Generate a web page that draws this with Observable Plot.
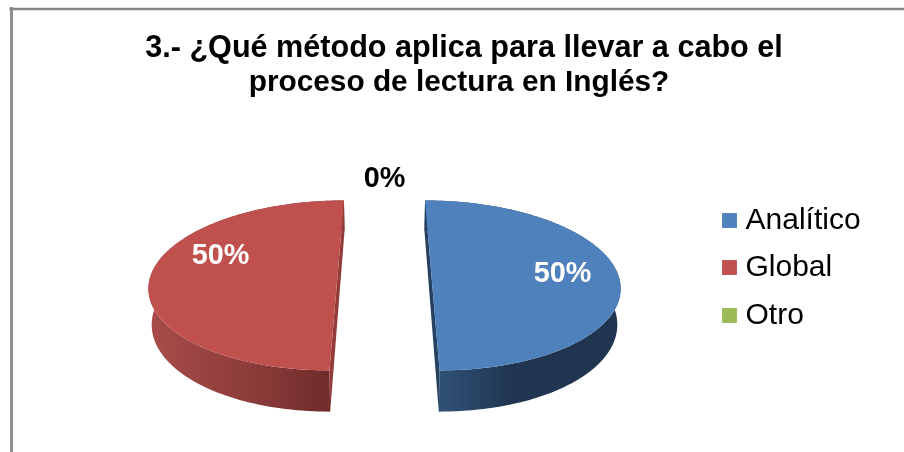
<!DOCTYPE html>
<html><head><meta charset="utf-8">
<style>html,body{margin:0;padding:0;background:#fff}svg{display:block;filter:blur(.4px)}</style>
<script src="https://cdn.jsdelivr.net/npm/d3@7"></script>
<script src="https://cdn.jsdelivr.net/npm/@observablehq/plot@0.6"></script>
</head><body><script>
const titleLines = ["3.- ¿Qué método aplica para llevar a cabo el", "proceso de lectura en Inglés?"];
const categories = ["Analítico", "Global", "Otro"];
const values = [50, 50, 0];
const colors = ["#4f81bd", "#c0504d", "#9bbb59"];
const cutColors = ["#254061", "#943c39", "#76923c"];

// layout of the 3D projection
const W = 904, H = 452;
const cx = 384, cy = 272, rx = 186, ry = 83, persp = 0.152, depth = 35, explode = 46.7, shrink = 0.986;
const labelAt = [[562, 272.5], [220, 254], [384, 177]];
const titleAt = [[463.5, 46.5], [458.5, 80.5]];
const titleSize = [30.6, 29.8];
const legendY = [220, 267, 315];

const pie = d3.pie().sort(null).startAngle(0).endAngle(2 * Math.PI)(values);
const total = d3.sum(values);
function proj(u, v, down) {
  const s = 1 / (1 + persp * v);
  return [cx + rx * u * s * (down ? shrink : 1), cy - ry * v * s + (down ? depth * s : 0)];
}
const slices = pie.map((a, i) => {
  const mid = (a.startAngle + a.endAngle) / 2;
  const ex = a.value > 0 ? explode / rx * Math.sign(Math.sin(mid)) : 0;
  const steps = 120;
  const arc = d3.range(steps + 1).map(k => {
    const t = a.startAngle + (a.endAngle - a.startAngle) * k / steps;
    return [ex + Math.sin(t), Math.cos(t)];
  });
  return {i, value: a.value, arc};
}).filter(s => s.value > 0);

const topFace = slices.map(s => ({i: s.i, pts: s.arc.map(p => proj(p[0], p[1], false))}));
const sideFace = slices.map(s => ({i: s.i, pts: [
  ...s.arc.map(p => proj(p[0], p[1], false)),
  ...s.arc.slice().reverse().map(p => proj(p[0], p[1], true))
]}));
const cutFace = slices.map(s => {
  const a = s.arc[0], b = s.arc[s.arc.length - 1];
  return {i: s.i, pts: [proj(a[0], a[1], false), proj(b[0], b[1], false), proj(b[0], b[1], true), proj(a[0], a[1], true)]};
});
const poly = (face, fillOf) => face.map(f => Plot.line(f.pts, {x: d => d[0], y: d => d[1], fill: fillOf(f.i), stroke: "none", curve: "linear"}));

const defs = () => {
  const d = d3.create("svg:defs");
  const grad = (id, stops) => {
    const g = d.append("linearGradient").attr("id", id).attr("x1", 0).attr("x2", 1).attr("y1", 0).attr("y2", 0);
    stops.forEach(([o, c]) => g.append("stop").attr("offset", o).attr("stop-color", c));
  };
  grad("side0", [[0, "#2f4f73"], [0.12, "#2f4f73"], [0.45, "#1f3550"], [1, "#1f3550"]]);
  grad("side1", [[0, "#a84c49"], [0.55, "#8a3b39"], [1, "#6a2928"]]);
  return d.node();
};

const chart = Plot.plot({
  width: W, height: H,
  margin: 0,
  x: {domain: [0, W], range: [0, W], axis: null},
  y: {domain: [0, H], range: [0, H], axis: null},
  style: {background: "#fff", fontFamily: "'Liberation Sans', Arial, sans-serif", overflow: "hidden"},
  marks: [
    defs,
    Plot.ruleX([11], {y1: 7, y2: H, stroke: "#8f8f8f", strokeWidth: 3}),
    Plot.ruleY([8.5], {x1: 9.5, x2: W, stroke: "#868686", strokeWidth: 2.5}),
    ...poly(sideFace, i => `url(#side${i})`),
    ...poly(cutFace, i => cutColors[i]),
    ...poly(topFace, i => colors[i]),
    ...titleLines.map((line, i) => Plot.text([line], {x: titleAt[i][0], y: titleAt[i][1], text: d => d,
      fontSize: titleSize[i], fontWeight: "bold", fill: "#000", textAnchor: "middle", lineAnchor: "middle"})),
    Plot.text(values, {x: (d, i) => labelAt[i][0], y: (d, i) => labelAt[i][1],
      text: d => `${Math.round(d / total * 100)}%`, fontSize: 28.8, fontWeight: "bold",
      fill: d => d > 0 ? "#fff" : "#000", lineAnchor: "middle", textAnchor: "middle"}),
    Plot.dot(categories, {x: 729, y: (d, i) => legendY[i], symbol: "square", r: 8.4, fill: (d, i) => colors[i], stroke: "none"}),
    Plot.text(categories, {x: 745, y: (d, i) => legendY[i] - 1, text: d => d, fontSize: 30, fill: "#000", textAnchor: "start", lineAnchor: "middle"})
  ]
});
document.body.appendChild(chart);
</script></body></html>
